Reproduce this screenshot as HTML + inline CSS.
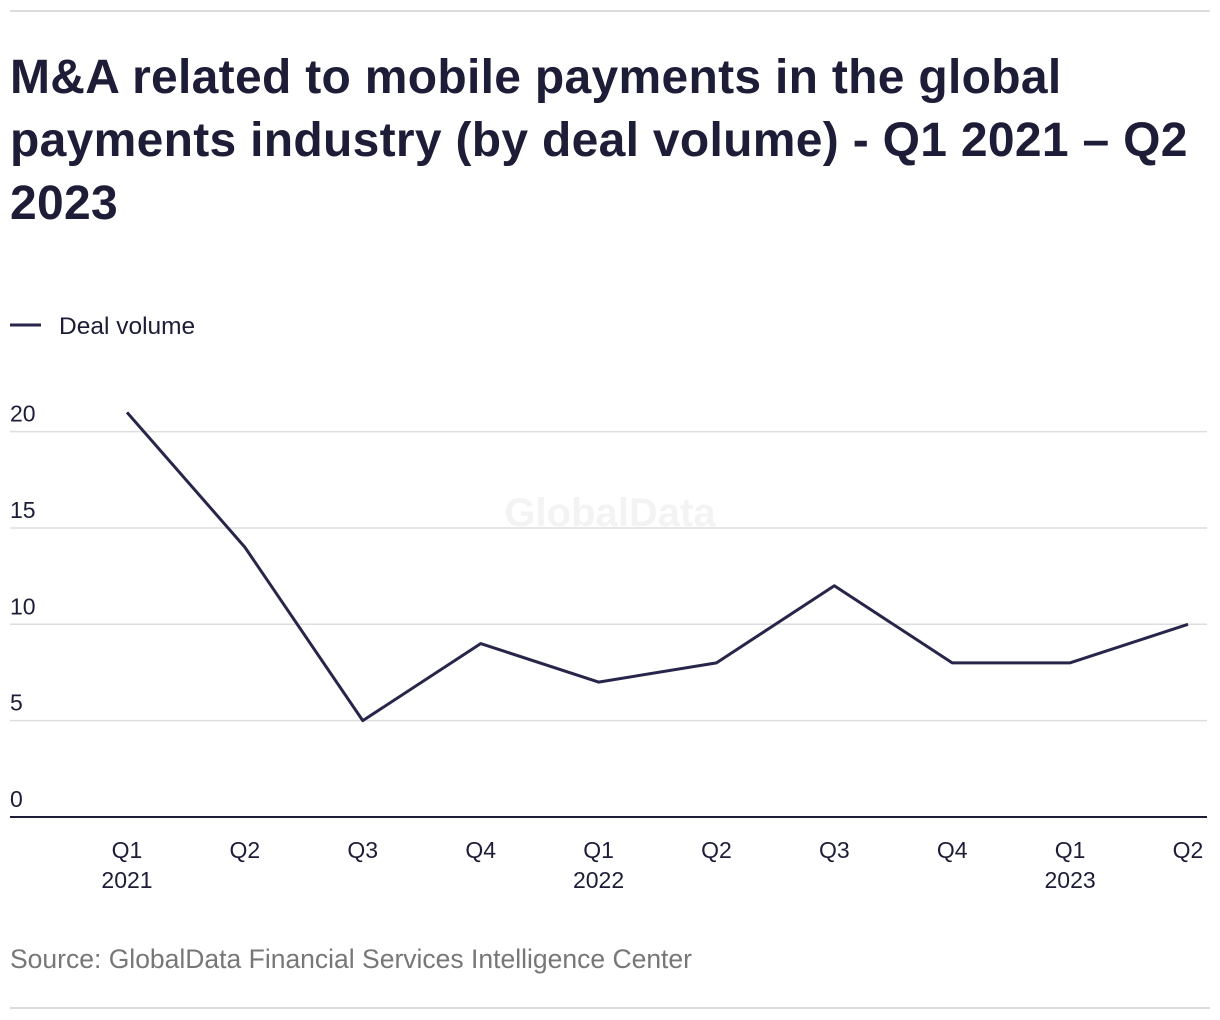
<!DOCTYPE html>
<html><head><meta charset="utf-8">
<style>
html,body{margin:0;padding:0;background:#fff;}
body{width:1220px;height:1020px;position:relative;overflow:hidden;font-family:"Liberation Sans",sans-serif;}
.rule{position:absolute;left:10px;width:1200px;height:2px;background:#dcdcdc;}
h1{position:absolute;left:10px;top:46px;margin:0;font-size:48px;line-height:63px;font-weight:bold;color:#1d1d38;width:1210px;white-space:nowrap;letter-spacing:0.3px;}
.src{position:absolute;left:10px;top:944px;font-size:26.5px;color:#777;}
</style></head><body>
<div class="rule" style="top:10px"></div>
<h1>M&amp;A related to mobile payments in the global<br>payments industry (by deal volume) - Q1 2021 – Q2<br>2023</h1>
<svg id="chart" width="1220" height="1020" style="position:absolute;left:0;top:0"></svg>
<div class="src">Source: GlobalData Financial Services Intelligence Center</div>
<div class="rule" style="top:1007px"></div>
<script>
const quarters=["Q1","Q2","Q3","Q4","Q1","Q2","Q3","Q4","Q1","Q2"];
const years=["2021","","","","2022","","","","2023",""];
const dealVolume=[21,14,5,9,7,8,12,8,8,10];
const yTicks=[0,5,10,15,20];
const NS="http://www.w3.org/2000/svg";
const svg=document.getElementById('chart');
const y=v=>817-v*19.27;
const x=i=>127+i*(1188-127)/(quarters.length-1);
function mk(t,a,p){const e=document.createElementNS(NS,t);for(const k in a)e.setAttribute(k,a[k]);(p||svg).appendChild(e);return e;}
const wm=mk('text',{x:610,y:526,'text-anchor':'middle','font-size':40,'font-weight':'bold',fill:'#f3f3f3','font-family':'Liberation Sans, sans-serif'});
wm.textContent='GlobalData';


const lg=mk('line',{x1:10,x2:41,y1:325,y2:325,stroke:'#27264a','stroke-width':3});


const lt=mk('text',{x:59,y:334,'font-size':24.5,fill:'#1d1d38','font-family':'Liberation Sans, sans-serif'});
lt.textContent='Deal volume';


yTicks.forEach(v=>{
  const g=mk('line',{x1:10,x2:1207,y1:y(v),y2:y(v),stroke:v===0?'#1d1d38':'#dedede','stroke-width':v===0?2:1.5});
  
  
  const t=mk('text',{x:10,y:y(v)-10,'font-size':23,fill:'#1d1d38','font-family':'Liberation Sans, sans-serif'});
  t.textContent=v;
  
  
});
quarters.forEach((q,i)=>{
  const t=mk('text',{x:x(i),y:858,'text-anchor':'middle','font-size':23,fill:'#1d1d38','font-family':'Liberation Sans, sans-serif'});
  t.textContent=q;
  
  
  if(years[i]){
    const yt=mk('text',{x:x(i),y:888,'text-anchor':'middle','font-size':23,fill:'#1d1d38','font-family':'Liberation Sans, sans-serif'});
    yt.textContent=years[i];
    
    
  }
});
const pts=dealVolume.map((v,i)=>x(i)+','+y(v)).join(' ');
const pl=mk('polyline',{points:pts,fill:'none',stroke:'#27264a','stroke-width':3,'stroke-linejoin':'round'});


</script>
</body></html>
